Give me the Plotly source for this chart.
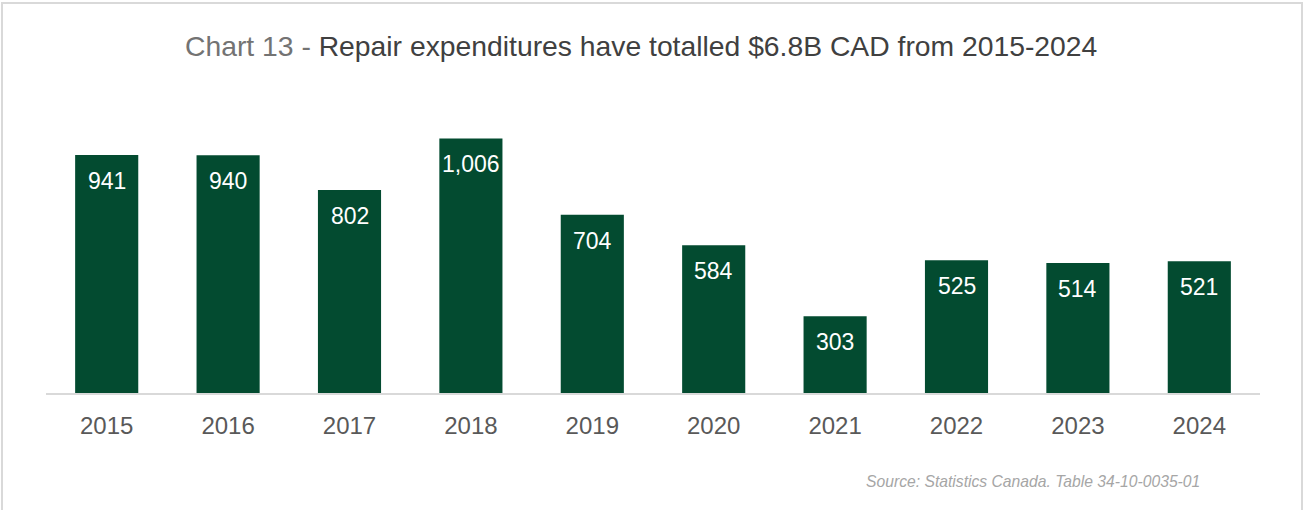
import plotly.graph_objects as go

years = ["2015", "2016", "2017", "2018", "2019", "2020", "2021", "2022", "2023", "2024"]
spend = [941, 940, 802, 1006, 704, 584, 303, 525, 514, 521]

FONT = "Liberation Sans, Arial, sans-serif"
GREEN = "#034b30"

fig = go.Figure(
    go.Bar(
        x=years,
        y=spend,
        marker=dict(color=GREEN, line=dict(width=0)),
        hovertemplate="%{x}: %{y:,}<extra></extra>",
    )
)

W, H = 1307, 510
L, R, T, B = 46, 47, 100, 117
pw, ph = W - L - R, H - T - B

def px_x(x):
    return (x - L) / pw

def px_y(y):
    return (H - B - y) / ph

# value labels just inside the top of each bar (category index on the x axis)
value_labels = [
    dict(
        x=i, y=v, xref="x", yref="y",
        text=f"{v:,}",
        showarrow=False,
        xanchor="center", yanchor="middle",
        yshift=-26,
        font=dict(family=FONT, size=23, color="white"),
    )
    for i, v in enumerate(spend)
]

fig.update_layout(
    width=W,
    height=H,
    margin=dict(l=L, r=R, t=T, b=B),
    paper_bgcolor="white",
    plot_bgcolor="white",
    bargap=0.48,
    showlegend=False,
    font=dict(family=FONT, color="#595959"),
    xaxis=dict(
        type="category",
        range=[-0.5, len(years) - 0.5],
        showgrid=False,
        showline=True,
        linecolor="#d9d9d9",
        linewidth=2,
        ticks="outside",
        ticklen=10,
        tickcolor="rgba(0,0,0,0)",
        tickfont=dict(family=FONT, size=24, color="#595959"),
    ),
    yaxis=dict(visible=False, range=[0, 1158]),
    annotations=value_labels + [
        dict(
            text="<span style='color:#737373'>Chart 13 - </span>"
                 "<span style='color:#404040'>Repair expenditures have totalled $6.8B CAD from 2015-2024</span>",
            xref="paper", yref="paper",
            x=px_x(641), y=px_y(46),
            xanchor="center", yanchor="middle",
            showarrow=False,
            font=dict(family=FONT, size=28.3),
        ),
        dict(
            text="<i>Source: Statistics Canada. Table 34-10-0035-01</i>",
            xref="paper", yref="paper",
            x=px_x(1202), y=px_y(481),
            xanchor="right", yanchor="middle",
            showarrow=False,
            font=dict(family=FONT, size=15.7, color="#a6a6a6"),
        ),
    ],
    shapes=[
        dict(
            type="rect", xref="paper", yref="paper",
            x0=px_x(2), x1=px_x(1302), y0=px_y(560), y1=px_y(3),
            line=dict(color="#d9d9d9", width=2),
            fillcolor="rgba(0,0,0,0)",
            layer="below",
        )
    ],
)

fig.write_html("out.html")
